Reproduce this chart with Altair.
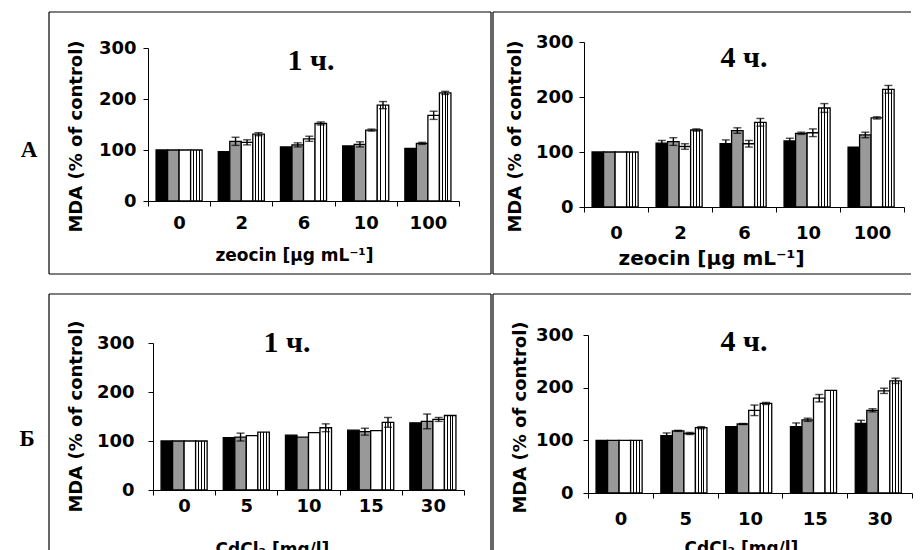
import altair as alt
import pandas as pd

SERIES = ["s1", "s2", "s3", "s4"]

ZEO_DOSES = ["0", "2", "6", "10", "100"]
CD_DOSES = ["0", "5", "10", "15", "30"]

# Panel A, 1 h (zeocin)
A1_VALS = [
    [100, 97, 106, 108, 103],
    [100, 117, 110, 111, 113],
    [100, 115, 122, 139, 168],
    [100, 131, 152, 188, 212],
]
A1_ERRS = [
    [0, 0, 0, 0, 0],
    [0, 8, 4, 5, 2],
    [0, 5, 5, 2, 8],
    [0, 3, 3, 7, 3],
]

# Panel A, 4 h (zeocin)
A4_VALS = [
    [100, 116, 115, 120, 109],
    [100, 119, 139, 134, 131],
    [100, 110, 115, 135, 162],
    [100, 140, 154, 180, 214],
]
A4_ERRS = [
    [0, 5, 7, 5, 0],
    [0, 7, 5, 2, 5],
    [0, 5, 6, 7, 2],
    [0, 2, 7, 8, 7],
]

# Panel B, 1 h (CdCl2)
B1_VALS = [
    [100, 107, 112, 122, 137],
    [100, 108, 108, 119, 140],
    [100, 111, 117, 121, 144],
    [100, 118, 127, 138, 152],
]
B1_ERRS = [
    [0, 0, 0, 0, 0],
    [0, 8, 0, 7, 15],
    [0, 0, 0, 0, 4],
    [0, 0, 8, 10, 0],
]

# Panel B, 4 h (CdCl2)
B4_VALS = [
    [100, 109, 126, 126, 132],
    [100, 118, 131, 139, 157],
    [100, 113, 157, 180, 194],
    [100, 124, 170, 195, 213],
]
B4_ERRS = [
    [0, 5, 0, 7, 6],
    [0, 1, 1, 3, 3],
    [0, 2, 10, 7, 5],
    [0, 2, 2, 0, 5],
]

Y_TITLE = "MDA (% of control)"
ZEO_TITLE = "zeocin [μg mL⁻¹]"
CD_TITLE = "CdCl₂ [mg/l]"

FONT = "DejaVu Sans"

STRIPES = alt.LinearGradient(
    gradient="linear", x1=0, x2=1, y1=0, y2=0,
    stops=[
        alt.GradientStop(offset=0.0, color="white"),
        alt.GradientStop(offset=0.22, color="white"),
        alt.GradientStop(offset=0.22, color="black"),
        alt.GradientStop(offset=0.30, color="black"),
        alt.GradientStop(offset=0.30, color="white"),
        alt.GradientStop(offset=0.46, color="white"),
        alt.GradientStop(offset=0.46, color="black"),
        alt.GradientStop(offset=0.54, color="black"),
        alt.GradientStop(offset=0.54, color="white"),
        alt.GradientStop(offset=0.70, color="white"),
        alt.GradientStop(offset=0.70, color="black"),
        alt.GradientStop(offset=0.78, color="black"),
        alt.GradientStop(offset=0.78, color="white"),
        alt.GradientStop(offset=1.0, color="white"),
    ],
)

ONE = pd.DataFrame({"k": [0]})


def hline(x1, x2, y):
    return alt.Chart(ONE).mark_rule(color="black", strokeWidth=1.2).encode(
        x=alt.value(x1), x2=alt.value(x2), y=alt.value(y))


def vline(x, y1, y2):
    return alt.Chart(ONE).mark_rule(color="black", strokeWidth=1.2).encode(
        x=alt.value(x), y=alt.value(y1), y2=alt.value(y2))


def make_panel(doses, vals, errs, gray, w, h, xr, yr, yoff, po,
               xtitle, xtfont, xlp, xtp, xtitlex,
               ylp, ytp, ytitley,
               tlabel, tpos, frame_lines, letter=None, lpos=None):
    rows = []
    for si, s in enumerate(SERIES):
        for di, d in enumerate(doses):
            v = vals[si][di]
            e = errs[si][di]
            rows.append({"dose": d, "series": s, "value": v, "err": e,
                         "lo": v - e, "hi": v + e})
    df = pd.DataFrame(rows)

    xaxis = alt.Axis(
        title=xtitle, labelAngle=0, tickBand="extent",
        domainColor="black", tickColor="black", tickSize=5, domainWidth=1,
        labelFont=FONT, labelFontSize=18, labelFontWeight="bold",
        labelColor="black", labelPadding=xlp,
        titleFont=FONT, titleFontSize=xtfont, titleFontWeight="bold",
        titleColor="black", titlePadding=xtp, titleX=xtitlex,
    )
    yaxis = alt.Axis(
        title=Y_TITLE, values=[0, 100, 200, 300], grid=False, offset=yoff,
        domainColor="black", tickColor="black", tickSize=5, domainWidth=1,
        labelFont=FONT, labelFontSize=18, labelFontWeight="bold",
        labelColor="black", labelPadding=ylp,
        titleFont=FONT, titleFontSize=18, titleFontWeight="bold",
        titleColor="black", titlePadding=ytp, titleY=ytitley,
    )
    xscale = alt.Scale(domain=doses, paddingInner=0, paddingOuter=0, range=xr)
    xoscale = alt.Scale(domain=SERIES, paddingInner=0, paddingOuter=po)
    yscale = alt.Scale(domain=[0, 300], nice=False, range=yr)

    x_enc = alt.X("dose:N", sort=doses, scale=xscale, axis=xaxis)
    xo_enc = alt.XOffset("series:N", scale=xoscale)

    base = alt.Chart(df)
    solid = base.transform_filter(alt.datum.series != "s4").mark_bar(
        stroke="black", strokeWidth=1.3
    ).encode(
        x=x_enc, xOffset=xo_enc,
        y=alt.Y("value:Q", scale=yscale, axis=yaxis),
        fill=alt.Fill("series:N",
                      scale=alt.Scale(domain=["s1", "s2", "s3"],
                                      range=["black", gray, "white"]),
                      legend=None),
    )
    striped = base.transform_filter(alt.datum.series == "s4").mark_bar(
        fill=STRIPES, stroke="black", strokeWidth=1.3
    ).encode(
        x=x_enc, xOffset=xo_enc,
        y=alt.Y("value:Q", scale=yscale, axis=yaxis),
    )
    ebase = base.transform_filter(alt.datum.err > 0)
    rule = ebase.mark_rule(color="black", strokeWidth=1.4).encode(
        x=x_enc, xOffset=xo_enc,
        y=alt.Y("lo:Q", scale=yscale, axis=yaxis), y2="hi:Q",
    )
    cap_lo = ebase.mark_tick(color="black", thickness=1.4, size=8,
                             orient="horizontal").encode(
        x=x_enc, xOffset=xo_enc, y=alt.Y("lo:Q", scale=yscale, axis=yaxis),
    )
    cap_hi = ebase.mark_tick(color="black", thickness=1.4, size=8,
                             orient="horizontal").encode(
        x=x_enc, xOffset=xo_enc, y=alt.Y("hi:Q", scale=yscale, axis=yaxis),
    )
    title = alt.Chart(pd.DataFrame({"label": [tlabel]})).mark_text(
        font="Liberation Serif", fontSize=30, fontWeight="bold",
        color="black", align="center", baseline="middle",
    ).encode(x=alt.value(tpos[0]), y=alt.value(tpos[1]), text="label:N")
    layers = [solid, striped, rule, cap_lo, cap_hi, title] + frame_lines
    if letter is not None:
        lt = alt.Chart(pd.DataFrame({"label": [letter]})).mark_text(
            font="Liberation Serif", fontSize=23, fontWeight="bold",
            color="black", align="center", baseline="middle",
        ).encode(x=alt.value(lpos[0]), y=alt.value(lpos[1]), text="label:N")
        layers.append(lt)
    return alt.layer(*layers).properties(width=w, height=h)


def full_box(x1, x2, y1, y2):
    return [hline(x1, x2, y1), hline(x1, x2, y2), vline(x1, y1, y2), vline(x2, y1, y2)]


RIGHT = 327

tl = make_panel(ZEO_DOSES, A1_VALS, A1_ERRS, "#999999", 311, 159,
                [0, 311], [159, 6], 0, 0.70,
                ZEO_TITLE, 17, 8, 15, 146,
                7, 13, 94,
                "1 ч.", (163, 19), full_box(-99, 343, -30, 232),
                "А", (-119, 108))
tr = make_panel(ZEO_DOSES, A4_VALS, A4_ERRS, "#999999", 320, 165,
                [0, 320], [165, 0], 0, 0.67,
                ZEO_TITLE, 20, 12, 6, 127,
                6, 11, 94,
                "4 ч.", (160, 16),
                [hline(-91, RIGHT, -30), hline(-91, RIGHT, 232), vline(-91, -30, 232)])
bl = make_panel(CD_DOSES, B1_VALS, B1_ERRS, "#808080", 316, 155,
                [5, 316], [155, 8], -5, 0.44,
                CD_TITLE, 17, 2, 26, 124,
                14, 11, 81,
                "1 ч.", (139, 8), full_box(-99, 343, -41, 236),
                "Б", (-121, 104))
br = make_panel(CD_DOSES, B4_VALS, B4_ERRS, "#808080", 328, 158,
                [4, 328], [158, 0], -4, 0.86,
                CD_TITLE, 17, 12, 12, 157,
                10, 6, 82,
                "4 ч.", (160, 7),
                [hline(-91, RIGHT, -41), vline(-91, -41, 236)])

chart = alt.vconcat(
    alt.hconcat(tl, tr, spacing=0),
    alt.hconcat(bl, br, spacing=0),
    spacing=18,
).properties(
    padding={"left": 11, "top": 3, "right": 0, "bottom": 0}
).configure_view(stroke=None)

chart.save("out.html", embed_options={"renderer": "svg", "actions": False})
